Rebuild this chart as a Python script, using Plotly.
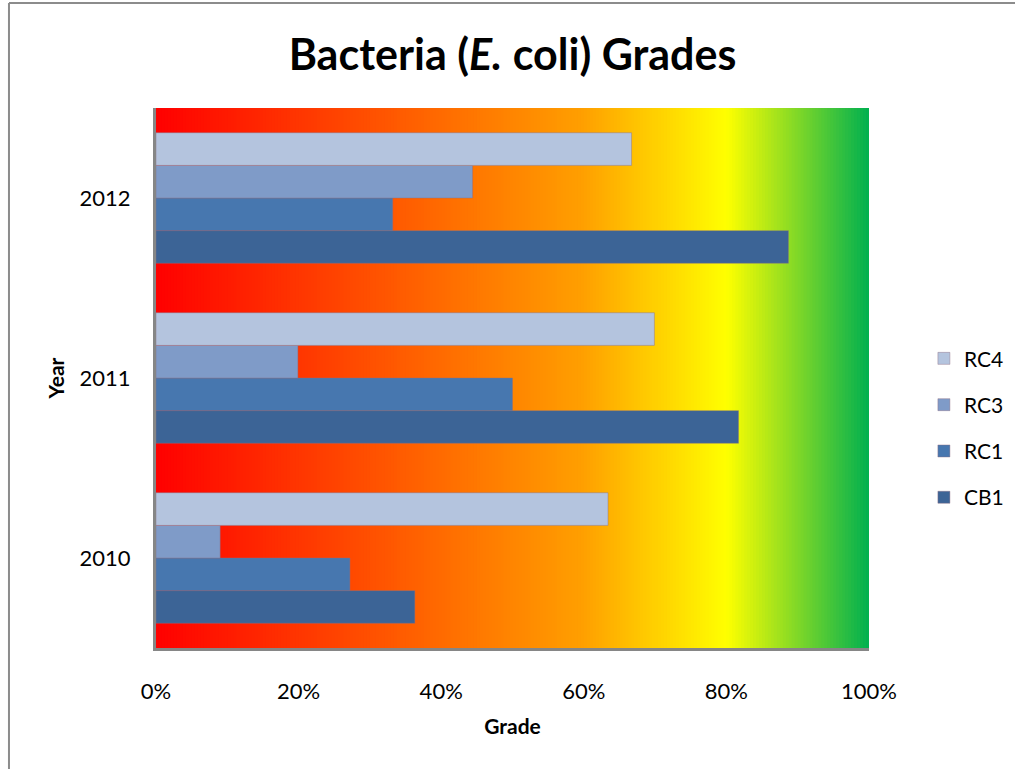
import plotly.graph_objects as go

years = ["2010", "2011", "2012"]
series = ["CB1", "RC1", "RC3", "RC4"]
values = {
    "CB1": [0.363, 0.817, 0.887],
    "RC1": [0.272, 0.500, 0.332],
    "RC3": [0.090, 0.199, 0.444],
    "RC4": [0.634, 0.699, 0.667],
}
colors = {
    "CB1": "#3C6496",
    "RC1": "#4777AF",
    "RC3": "#7F9BC8",
    "RC4": "#B4C4DE",
}
legend_rank = {"RC4": 1, "RC3": 2, "RC1": 3, "CB1": 4}
x_ticks = [0, 0.2, 0.4, 0.6, 0.8, 1.0]
x_tick_labels = ["0%", "20%", "40%", "60%", "80%", "100%"]

# gradient stops for background
grad_stops = [(0.0, (255, 0, 0)), (0.6, (255, 160, 0)), (0.8, (255, 255, 0)), (1.0, (0, 176, 80))]


def grad_color(t):
    for (p0, c0), (p1, c1) in zip(grad_stops[:-1], grad_stops[1:]):
        if p0 <= t <= p1:
            f = (t - p0) / (p1 - p0)
            return "rgb(%d,%d,%d)" % tuple(round(a + (b - a) * f) for a, b in zip(c0, c1))
    return "rgb(%d,%d,%d)" % grad_stops[-1][1]


FONT = "Lato"
fig = go.Figure()
for s in series:
    fig.add_trace(go.Bar(
        y=years, x=values[s], name=s, orientation="h",
        marker=dict(color=colors[s], line=dict(width=0.8, color="rgba(140,110,130,0.55)")),
        legendgroup=s, legendrank=legend_rank[s],
    ))

shapes = []
N = 240
for i in range(N):
    a, b = i / N, (i + 1) / N
    shapes.append(dict(type="rect", xref="x", yref="paper", x0=a, x1=min(1.0, b + 0.6 / N), y0=0, y1=1,
                       fillcolor=grad_color((a + b) / 2), line=dict(width=0), layer="below"))
# outer chart border (top and left edges visible)
border = dict(color="#8C8C8C", width=2)
shapes.append(dict(type="line", xref="paper", yref="paper", x0=-0.2062, x1=1.25, y0=1.1944, y1=1.1944,
                   line=border, layer="above"))
shapes.append(dict(type="line", xref="paper", yref="paper", x0=-0.2062, x1=-0.2062, y0=1.1944, y1=-0.3,
                   line=border, layer="above"))

fig.update_layout(
    width=1015, height=769,
    margin=dict(l=156, r=146, t=108, b=121, autoexpand=False),
    paper_bgcolor="white", plot_bgcolor="white",
    barmode="group", bargap=0.275, bargroupgap=0,
    shapes=shapes,
    font=dict(family=FONT, color="black"),
    title=dict(text="<b>Bacteria (<i>E.</i> coli) Grades</b>", x=0.5, xref="paper", xanchor="center",
               y=1 - 55 / 769, yanchor="middle", font=dict(size=43, family=FONT)),
    showlegend=True,
    legend=dict(traceorder="grouped", tracegroupgap=16, x=1.077, xanchor="left",
                y=0.407, yanchor="middle", font=dict(size=21, family=FONT), bgcolor="rgba(0,0,0,0)"),
    xaxis=dict(range=[0, 1], tickvals=x_ticks, ticktext=x_tick_labels, showgrid=False, zeroline=False,
               showline=True, linecolor="#868686", linewidth=3, ticks="", ticklabelstandoff=22,
               tickfont=dict(size=22, family=FONT),
               title=dict(text="<b>Grade</b>", font=dict(size=21, family=FONT), standoff=16)),
    yaxis=dict(range=[-0.5, 2.5], showgrid=False, zeroline=False, showline=True, linecolor="#868686",
               linewidth=3, ticks="", ticklabelstandoff=18, tickfont=dict(size=22, family=FONT),
               title=dict(text="<b>Year</b>", font=dict(size=21, family=FONT), standoff=10)),
)

fig.write_html("out.html", config={"displayModeBar": False},
               post_script="document.body.style.margin='0px';document.body.style.overflow='hidden';")
